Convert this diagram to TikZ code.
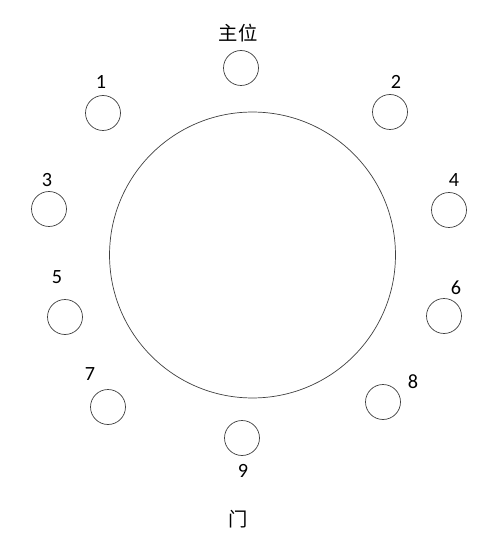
\documentclass[tikz,border=0pt]{standalone}
\usepackage{fontspec}
\setmainfont{Carlito}
\newfontfamily\cjk{Noto Sans CJK SC}
\tikzset{
	seat/.style = {circle, draw=black!75, thin, minimum size=0.7cm, inner sep=0pt},
	seatno/.style = {font=\fontsize{11.5}{12}\selectfont, inner sep=0pt},
}
\begin{document}
\begin{tikzpicture}[x={(0.02cm,0)}, y={(0,-0.02cm)}]
	\path[use as bounding box] (0,0) rectangle (500,540);
	\node[circle, draw=black!75, thin, minimum size=5.72cm, inner sep=0pt] (table) at (252.5,255) {};
	\node[seat] (s0) at (241,68) {};
	\node[font=\cjk\fontsize{11}{12}\selectfont, inner sep=0pt] (l0) at (238,33) {主位};
	\foreach \n/\sx/\sy/\lx/\ly in {1/103/113/101/82, 2/390/112/396/82, 3/49/209/47/180,
			4/449/210/454/180, 5/65/317/57/277, 6/444/316/456/288, 7/108/407/90/374,
			8/383/402/413/382, 9/242/438/243/471}{
			\node[seat] (s\n) at (\sx,\sy) {};
			\node[seatno] (l\n) at (\lx,\ly) {\n};
		}
	\node[font=\cjk\fontsize{11}{12}\selectfont, inner sep=0pt] (door) at (238,519) {门};
\end{tikzpicture}
\end{document}
